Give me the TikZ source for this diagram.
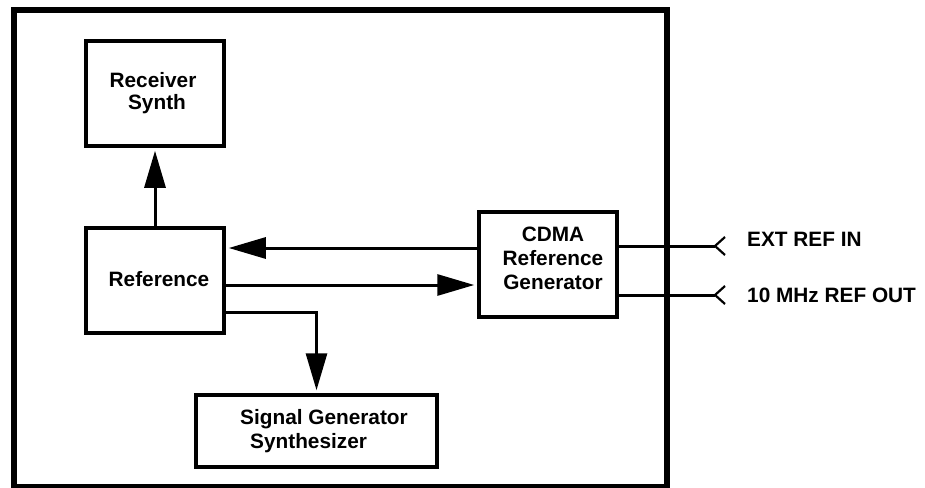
\documentclass[tikz,border=0pt]{standalone}
\usepackage{fontspec}
\setmainfont{Liberation Sans}
\usetikzlibrary{arrows.meta}
\begin{document}
\begin{tikzpicture}[x=1pt,y=-1pt,
  box/.style={draw, line width=3.5pt, inner sep=0pt},
  frame/.style={line width=6pt},
  lbl/.style={inner sep=0pt, font=\bfseries\fontsize{20.8}{24}\selectfont},
  conn/.style={line width=3pt, -{Triangle[length=37pt,width=21pt]}, shorten >=3pt},
  wire/.style={line width=3pt},
  chev/.style={line width=2.2pt}]
\useasboundingbox (0,0) rectangle (925,487);
% outer frame
\draw[frame] (14,10) rectangle (667,487);
% boxes
\node[box, minimum width=138pt, minimum height=105pt] (rs) at (155,93.5) {};
\node[box, minimum width=138pt, minimum height=105pt] (ref) at (155,280.5) {};
\node[box, minimum width=241pt, minimum height=72pt] (sg) at (316.5,431) {};
\node[box, minimum width=138pt, minimum height=105pt] (cdma) at (548,264.5) {};
% box texts
\node[lbl, anchor=north, align=center, font=\bfseries\fontsize{20.8}{22}\selectfont] (rst) at (153,72.5) {Receiver\\ \hspace*{8pt}Synth};
\node[lbl, anchor=north] (reft) at (159,271) {Reference};
\node[lbl, anchor=north west, align=left] (sgt) at (240,409) {Signal Generator\\\hspace*{10pt}Synthesizer};
\node[lbl, anchor=north, align=center] (cdmat) at (553,227) {CDMA\\Reference\\Generator};
% connectors
\draw[conn] (ref.north) -- (rs.south);
\draw[conn] (cdma.west |- 0,248) -- (ref.east |- 0,248);
\draw[conn] (ref.east |- 0,285) -- (cdma.west |- 0,285);
\draw[conn] (ref.east |- 0,312) -| (sg.north);
% external ports
\coordinate (extin) at (715,246);
\coordinate (refout) at (715,295);
\draw[wire] (cdma.east |- extin) -- (extin);
\draw[wire] (cdma.east |- refout) -- (refout);
\draw[chev] (725,237) -- (extin) -- (725,255);
\draw[chev] (725,286) -- (refout) -- (725,304);
\node[lbl, anchor=base west] (extt) at (747,246) {EXT REF IN};
\node[lbl, anchor=base west] (outt) at (747,302) {10 MHz REF OUT};
\end{tikzpicture}
\end{document}
